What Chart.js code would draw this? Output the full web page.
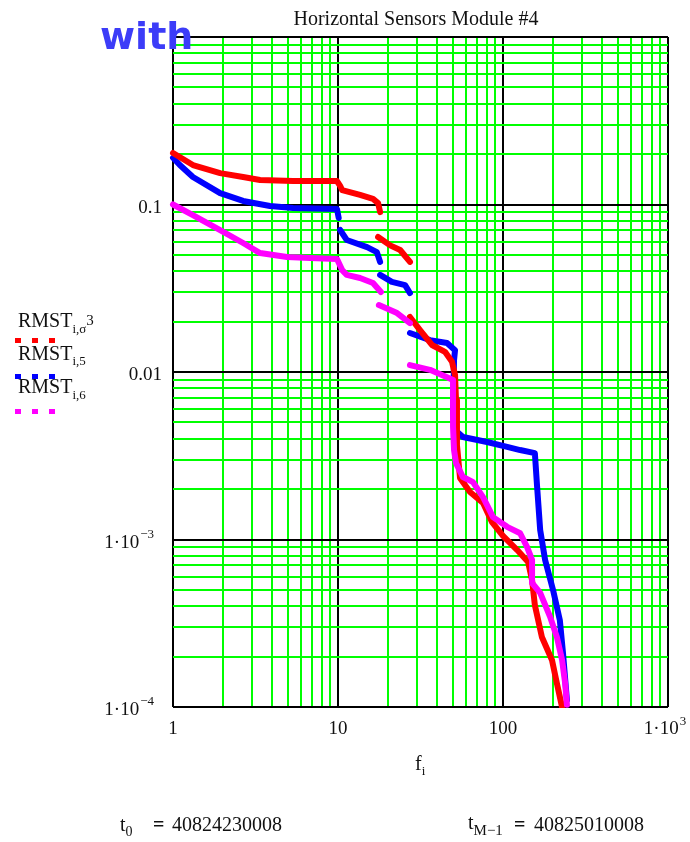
<!DOCTYPE html>
<html>
<head>
<meta charset="utf-8">
<script src="https://cdn.jsdelivr.net/npm/chart.js@4.4.0/dist/chart.umd.min.js"></script>
<style>
  body { margin: 0; background: #fff; }
  #wrap { position: relative; width: 690px; height: 842px; font-family: "Liberation Serif", serif; color: #111; }
  #wrap canvas { position: absolute; left: 0; top: 0; }
  .t { position: absolute; white-space: nowrap; line-height: 1; font-size: 20px; }
  .sub { position: relative; font-size: 13px; }
  .dot { position: absolute; width: 6px; height: 5px; }
</style>
</head>
<body>
<div id="wrap">
  <canvas id="myCanvas" width="690" height="842"></canvas>

  <div class="t" style="left:100px;top:17px;font:bold 38px 'DejaVu Sans';line-height:1;color:#3c3cf8">with</div>
  <div class="t" style="left:266px;top:8px;width:300px;text-align:center">Horizontal Sensors Module #4</div>

  <div class="t" style="left:18px;top:310px">RMST<span class="sub" style="top:6px">i,σ</span><span class="sub" style="font-size:15px;top:-2px">3</span></div>
  <div class="dot" style="left:15px;top:338px;background:#f00"></div>
  <div class="dot" style="left:32px;top:338px;background:#f00"></div>
  <div class="dot" style="left:49px;top:338px;background:#f00"></div>

  <div class="t" style="left:18px;top:343px">RMST<span class="sub" style="top:5px">i,5</span></div>
  <div class="dot" style="left:15px;top:374px;background:#00f"></div>
  <div class="dot" style="left:32px;top:374px;background:#00f"></div>
  <div class="dot" style="left:49px;top:374px;background:#00f"></div>

  <div class="t" style="left:18px;top:376px">RMST<span class="sub" style="top:6px">i,6</span></div>
  <div class="dot" style="left:15px;top:409px;background:#f0f"></div>
  <div class="dot" style="left:32px;top:409px;background:#f0f"></div>
  <div class="dot" style="left:49px;top:409px;background:#f0f"></div>

  <div class="t" style="left:415px;top:753px">f<span class="sub" style="top:5px">i</span></div>

  <div class="t" style="left:120px;top:814px">t<span class="sub" style="font-size:14px;top:5px">0</span></div>
  <div class="t" style="left:153px;top:814px;font-weight:bold">=</div>
  <div class="t" style="left:172px;top:814px">40824230008</div>

  <div class="t" style="left:468px;top:812px">t<span class="sub" style="font-size:15px;top:6px">M−1</span></div>
  <div class="t" style="left:514px;top:814px;font-weight:bold">=</div>
  <div class="t" style="left:534px;top:814px">40825010008</div>
</div>

<script>
// RMST_i,σ3 (red)
const redF = [1, 1.32, 1.93, 2.66, 3.37, 5.34, 9.86, 10.3, 10.6, 13.6, 16.3, 17.5, 18.0, 18.0, 17.5, 20.7, 23.8, 27.3, 27.3, 27.3,
              31.4, 37.1, 44.5, 49.1, 51.2, 51.9, 52.6, 54.9, 63.1, 75.7, 85.8, 100, 122, 142, 150, 156, 172, 198, 212, 228];
const redV = [0.203, 0.172, 0.154, 0.146, 0.140, 0.138, 0.138, 0.129, 0.122, 0.114, 0.108, 0.102, 0.090, null, 0.064, 0.057, 0.0535, 0.0454, null, 0.0213,
              0.0178, 0.0145, 0.0132, 0.0115, 0.0096, 0.0068, 0.00366, 0.00233, 0.00192, 0.00165, 0.00127, 0.00105, 0.000865, 0.000734, 0.000573, 0.000406, 0.000262, 0.000191, 0.000139, 0.0001];

// RMST_i,5 (blue)
const blueF = [1, 1.1, 1.32, 1.93, 2.66, 3.87, 5.34, 9.86, 10.1, 10.1, 10.3, 11.3, 15.0, 17.2, 18.0, 18.0, 18.0, 21.2, 25.5, 27.3,
               27.3, 27.3, 36.1, 45.8, 51.2, 50.5, 49.8, 51.2, 57.2, 80, 106, 127, 156, 161, 168, 180, 201, 221, 231, 244];
const blueV = [0.19, 0.172, 0.146, 0.117, 0.105, 0.098, 0.0953, 0.094, 0.083, null, 0.0704, 0.0614, 0.0557, 0.052, 0.0454, null, 0.038, 0.0345, 0.033, 0.0296,
               null, 0.0171, 0.0155, 0.0149, 0.0135, 0.0118, 0.00569, 0.00451, 0.00409, 0.00382, 0.00357, 0.00342, 0.00328, 0.00206, 0.00114, 0.000755, 0.0005, 0.00033, 0.00021, 0.00011];

// RMST_i,6 (magenta)
const magF = [1, 1.32, 1.93, 2.66, 3.37, 4.91, 6.77, 9.86, 10.6, 11.3, 13.6, 16.3, 18.2, 18.2, 17.7, 22.8, 27.3, 27.3, 27.3, 36.1,
              45.8, 49.8, 49.8, 49.8, 50.5, 51.9, 57.2, 65.8, 75.7, 87, 106, 127, 140, 150, 150, 168, 193, 212, 228, 238, 244];
const magV = [0.1, 0.0865, 0.0704, 0.0589, 0.0513, 0.0486, 0.048, 0.0473, 0.0406, 0.038, 0.0364, 0.034, 0.030, null, 0.0251, 0.0225, 0.0196, null, 0.011, 0.0103,
              0.0093, 0.00896, 0.0071, 0.0047, 0.00342, 0.00286, 0.00236, 0.0022, 0.00179, 0.00136, 0.00119, 0.00109, 0.0009, 0.000755, 0.00055, 0.00048, 0.000345, 0.000262, 0.000191, 0.000139, 0.000103];

// grid lines (decades black, the rest green)
const xGrid = [1, 2, 3, 4, 5, 6, 7, 8, 9, 10, 20, 30, 40, 50, 60, 70, 80, 90, 100, 200, 300, 400, 500, 600, 700, 800, 900, 1000];
const yGrid = [1e-4, 2e-4, 3e-4, 4e-4, 5e-4, 6e-4, 7e-4, 8e-4, 9e-4, 1e-3, 2e-3, 3e-3, 4e-3, 5e-3, 6e-3, 7e-3, 8e-3, 9e-3,
               0.01, 0.02, 0.03, 0.04, 0.05, 0.06, 0.07, 0.08, 0.09, 0.1, 0.2, 0.3, 0.4, 0.5, 0.6, 0.7, 0.8, 0.9, 1];

// tick labels, "^" marks the raised exponent
const xLabelValues = [1, 10, 100, 1000];
const xLabels = ['1', '10', '100', '1·10^3'];
const yLabelValues = [0.1, 0.01, 0.001, 0.0001];
const yLabels = ['0.1', '0.01', '1·10^−3', '1·10^−4'];

function isDecade(v) {
  const l = Math.log10(v);
  return Math.abs(l - Math.round(l)) < 1e-6;
}

function series(f, v, color, order) {
  return {
    data: f.map((x, i) => ({x: x, y: v[i]})),
    showLine: true,
    spanGaps: false,
    borderColor: color,
    backgroundColor: color,
    borderWidth: 6,
    borderCapStyle: 'round',
    borderJoinStyle: 'round',
    pointRadius: 0,
    order: order,
    clip: {left: 4, top: 2, right: 2, bottom: 1}
  };
}

const BASE_FONT = '19px "Liberation Serif"';
const EXP_FONT = '13px "Liberation Serif"';

const tickLabels = {
  id: 'tickLabels',
  afterDraw(chart) {
    const ctx = chart.ctx;
    const xs = chart.scales.x, ys = chart.scales.y;
    ctx.save();
    ctx.fillStyle = '#111';
    ctx.textBaseline = 'alphabetic';

    yLabelValues.forEach((val, i) => {
      const [base, exp] = yLabels[i].split('^');
      const py = ys.getPixelForValue(val);
      if (!exp) {
        ctx.font = BASE_FONT;
        ctx.textAlign = 'right';
        ctx.fillText(base, 162, py + 8);
      } else {
        ctx.font = EXP_FONT;
        const ew = ctx.measureText(exp).width;
        ctx.textAlign = 'left';
        ctx.fillText(exp, 154 - ew, py - 2);
        ctx.font = BASE_FONT;
        ctx.textAlign = 'right';
        ctx.fillText(base, 153 - ew, py + 8);
      }
    });

    xLabelValues.forEach((val, i) => {
      const [base, exp] = xLabels[i].split('^');
      const px = xs.getPixelForValue(val);
      ctx.textAlign = 'left';
      ctx.font = BASE_FONT;
      const bw = ctx.measureText(base).width;
      let ew = 0;
      if (exp) {
        ctx.font = EXP_FONT;
        ew = ctx.measureText(exp).width + 1;
      }
      const x0 = px - (bw + ew) / 2 - (exp ? 3 : 0);
      ctx.font = BASE_FONT;
      ctx.fillText(base, x0, 734);
      if (exp) {
        ctx.font = EXP_FONT;
        ctx.fillText(exp, x0 + bw + 1, 725);
      }
    });
    ctx.restore();
  }
};

function gridColor(c) {
  return isDecade(c.tick.value) ? '#000000' : '#00ff00';
}

new Chart(document.getElementById('myCanvas'), {
  type: 'scatter',
  data: {
    datasets: [
      series(redF, redV, '#ff0000', 1),
      series(blueF, blueV, '#0000ff', 2),
      series(magF, magV, '#ff00ff', 0)
    ]
  },
  options: {
    responsive: false,
    animation: false,
    devicePixelRatio: 1,
    layout: {padding: {left: 173, right: 22, top: 37, bottom: 135}},
    plugins: {legend: {display: false}, tooltip: {enabled: false}, title: {display: false}},
    scales: {
      x: {
        type: 'logarithmic',
        min: 1,
        max: 1000,
        afterBuildTicks: (s) => { s.ticks = xGrid.map(v => ({value: v})); },
        ticks: {display: false},
        grid: {color: gridColor, lineWidth: 2, drawTicks: false},
        border: {display: false}
      },
      y: {
        type: 'logarithmic',
        min: 1e-4,
        max: 1,
        afterBuildTicks: (s) => { s.ticks = yGrid.map(v => ({value: v})); },
        ticks: {display: false},
        grid: {color: gridColor, lineWidth: 2, drawTicks: false},
        border: {display: false}
      }
    }
  },
  plugins: [tickLabels]
});
</script>
</body>
</html>
